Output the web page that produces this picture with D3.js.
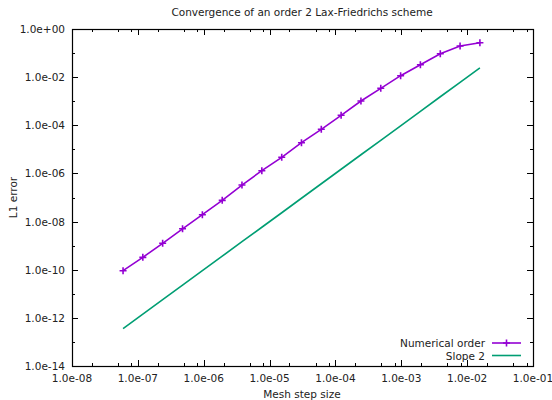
<!DOCTYPE html>
<html>
<head>
<meta charset="utf-8">
<script src="https://cdn.jsdelivr.net/npm/d3@7"></script>
<style>
html,body{margin:0;padding:0;background:#fff;}
svg{display:block;font-family:"DejaVu Sans",sans-serif;}
</style>
</head>
<body>
<svg id="chart" width="552" height="400"></svg>
<script>
const titleText = "Convergence of an order 2 Lax-Friedrichs scheme";
const xLabel = "Mesh step size";
const yLabel = "L1 error";
const seriesNames = ["Numerical order", "Slope 2"];
const meshSize = [5.96e-8, 1.19e-7, 2.38e-7, 4.77e-7, 9.54e-7, 1.91e-6, 3.81e-6, 7.63e-6, 1.53e-5, 3.05e-5, 6.10e-5, 1.22e-4, 2.44e-4, 4.88e-4, 9.77e-4, 1.95e-3, 3.91e-3, 7.81e-3, 1.5625e-2];
const numericalError = [9.1e-11, 3.27e-10, 1.25e-9, 5.0e-9, 1.93e-8, 7.6e-8, 3.3e-7, 1.30e-6, 4.68e-6, 1.89e-5, 6.8e-5, 2.6e-4, 1.02e-3, 3.44e-3, 1.15e-2, 3.29e-2, 9.4e-2, 0.197, 0.27];
const slope2 = [3.55e-13, 1.42e-12, 5.68e-12, 2.27e-11, 9.09e-11, 3.64e-10, 1.46e-9, 5.82e-9, 2.33e-8, 9.31e-8, 3.73e-7, 1.49e-6, 5.96e-6, 2.38e-5, 9.54e-5, 3.81e-4, 1.53e-3, 6.10e-3, 2.44e-2];
const xTicks = [1e-8, 1e-7, 1e-6, 1e-5, 1e-4, 1e-3, 1e-2, 1e-1];
const xTickLabels = ["1.0e-08","1.0e-07","1.0e-06","1.0e-05","1.0e-04","1.0e-03","1.0e-02","1.0e-01"];
const yTicks = [1e0, 1e-2, 1e-4, 1e-6, 1e-8, 1e-10, 1e-12, 1e-14];
const yTickLabels = ["1.0e+00","1.0e-02","1.0e-04","1.0e-06","1.0e-08","1.0e-10","1.0e-12","1.0e-14"];
const xMinorMult = [2, 5, 8];
const yMinor = [1e-1, 1e-3, 1e-5, 1e-7, 1e-9, 1e-11, 1e-13];
const colors = ["#9400d3", "#009e73"];

const svg = d3.select("#chart");
const L = 72, R = 533, T = 29, B = 366;
const fs = 10.5;
const x = d3.scaleLog().domain([1e-8, 1e-1]).range([L, R]);
const y = d3.scaleLog().domain([1e-14, 1e0]).range([B, T]);

const xMinor = [];
xTicks.slice(0, -1).forEach(t => xMinorMult.forEach(m => xMinor.push(t * m)));

const g = svg.append("g");
// ticks (inward, mirrored)
function tick(x1, y1, x2, y2) {
  g.append("line").attr("x1", x1).attr("y1", y1).attr("x2", x2).attr("y2", y2)
    .attr("stroke", "#000").attr("stroke-width", 1);
}
xTicks.forEach(t => {
  const px = Math.round(x(t)) + 0.5;
  tick(px, B, px, B - 6);
  tick(px, T, px, T + 6);
});
xMinor.forEach(t => {
  const px = Math.round(x(t)) + 0.5;
  tick(px, B, px, B - 3);
  tick(px, T, px, T + 3);
});
yTicks.forEach(t => {
  const py = Math.round(y(t)) + 0.5;
  tick(L, py, L + 6, py);
  tick(R, py, R - 6, py);
});
yMinor.forEach(t => {
  const py = Math.round(y(t)) + 0.5;
  tick(L, py, L + 3, py);
  tick(R, py, R - 3, py);
});
// border
g.append("rect").attr("x", L + 0.5).attr("y", T + 0.5).attr("width", R - L).attr("height", B - T)
  .attr("fill", "none").attr("stroke", "#000").attr("stroke-width", 1.2);

// tick labels
xTicks.forEach((t, i) => {
  g.append("text").attr("x", x(t)).attr("y", B + 15.5).attr("text-anchor", "middle")
    .attr("font-size", fs).attr("fill", "#222").text(xTickLabels[i]);
});
yTicks.forEach((t, i) => {
  g.append("text").attr("x", L - 7).attr("y", y(t) + 4).attr("text-anchor", "end")
    .attr("font-size", fs).attr("fill", "#222").text(yTickLabels[i]);
});

// titles
svg.append("text").attr("x", 302).attr("y", 16).attr("text-anchor", "middle")
  .attr("font-size", fs).attr("fill", "#222").text(titleText);
svg.append("text").attr("x", 302).attr("y", 398).attr("text-anchor", "middle")
  .attr("font-size", fs).attr("fill", "#222").text(xLabel);
svg.append("text").attr("transform", `translate(17,${(T + B) / 2}) rotate(-90)`).attr("text-anchor", "middle")
  .attr("font-size", fs).attr("fill", "#222").text(yLabel);

// series
const line = d3.line().x(d => x(d[0])).y(d => y(d[1]));
const numData = meshSize.map((h, i) => [h, numericalError[i]]);
const slopeData = meshSize.map((h, i) => [h, slope2[i]]);

svg.append("path").datum(slopeData).attr("d", line).attr("fill", "none")
  .attr("stroke", colors[1]).attr("stroke-width", 1.6);
svg.append("path").datum(numData).attr("d", line).attr("fill", "none")
  .attr("stroke", colors[0]).attr("stroke-width", 1.6);

const ms = 3.5;
function plus(px, py) {
  svg.append("path").attr("d", `M${px - ms},${py}H${px + ms}M${px},${py - ms}V${py + ms}`)
    .attr("stroke", colors[0]).attr("stroke-width", 1.6).attr("fill", "none");
}
numData.forEach(d => plus(x(d[0]), y(d[1])));

// legend
const legY = [343, 355.5];
seriesNames.forEach((name, i) => {
  svg.append("text").attr("x", 485).attr("y", legY[i] + 4).attr("text-anchor", "end")
    .attr("font-size", fs).attr("fill", "#222").text(name);
  svg.append("line").attr("x1", 492).attr("x2", 521).attr("y1", legY[i]).attr("y2", legY[i])
    .attr("stroke", colors[i]).attr("stroke-width", 1.6);
});
plus(506.5, legY[0]);
</script>
</body>
</html>
